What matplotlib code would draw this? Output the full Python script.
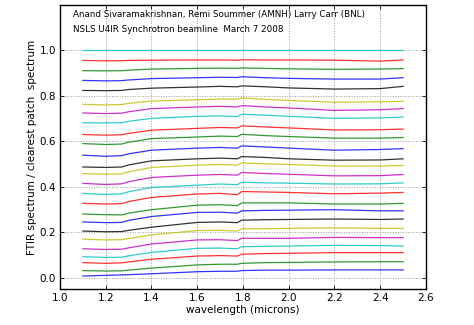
import matplotlib
matplotlib.use("Agg")
import matplotlib.pyplot as plt

wavelength = [1.10, 1.20, 1.27, 1.30, 1.40, 1.60, 1.70, 1.775, 1.795, 1.90, 2.00, 2.20, 2.40, 2.50]

# spectra ratios, listed from bottom (index 0) to top (index 24)
s00 = [0.007, 0.010, 0.012, 0.013, 0.017, 0.026, 0.028, 0.028, 0.031, 0.033, 0.033, 0.034, 0.034, 0.034]
s01 = [0.031, 0.029, 0.030, 0.033, 0.042, 0.056, 0.059, 0.059, 0.063, 0.066, 0.067, 0.069, 0.070, 0.070]
s02 = [0.066, 0.063, 0.065, 0.069, 0.081, 0.095, 0.097, 0.095, 0.103, 0.106, 0.107, 0.110, 0.110, 0.110]
s03 = [0.092, 0.089, 0.090, 0.096, 0.111, 0.129, 0.130, 0.127, 0.136, 0.138, 0.139, 0.142, 0.141, 0.139]
s04 = [0.127, 0.124, 0.125, 0.131, 0.148, 0.166, 0.167, 0.163, 0.173, 0.173, 0.173, 0.177, 0.176, 0.176]
s05 = [0.169, 0.166, 0.167, 0.172, 0.188, 0.207, 0.208, 0.205, 0.215, 0.215, 0.217, 0.219, 0.217, 0.217]
s06 = [0.205, 0.202, 0.203, 0.208, 0.222, 0.243, 0.245, 0.242, 0.253, 0.255, 0.256, 0.258, 0.256, 0.258]
s07 = [0.245, 0.242, 0.243, 0.252, 0.269, 0.287, 0.288, 0.284, 0.294, 0.296, 0.297, 0.299, 0.294, 0.294]
s08 = [0.280, 0.277, 0.276, 0.284, 0.299, 0.319, 0.321, 0.317, 0.329, 0.329, 0.329, 0.324, 0.324, 0.327]
s09 = [0.327, 0.324, 0.326, 0.335, 0.353, 0.368, 0.371, 0.365, 0.379, 0.377, 0.375, 0.369, 0.372, 0.375]
s10 = [0.371, 0.366, 0.369, 0.378, 0.397, 0.407, 0.412, 0.409, 0.420, 0.417, 0.416, 0.412, 0.413, 0.417]
s11 = [0.415, 0.410, 0.413, 0.422, 0.441, 0.451, 0.454, 0.451, 0.463, 0.458, 0.455, 0.448, 0.449, 0.454]
s12 = [0.458, 0.455, 0.457, 0.466, 0.485, 0.495, 0.498, 0.495, 0.505, 0.501, 0.498, 0.491, 0.491, 0.494]
s13 = [0.487, 0.485, 0.487, 0.496, 0.514, 0.523, 0.526, 0.523, 0.533, 0.529, 0.523, 0.517, 0.518, 0.523]
s14 = [0.539, 0.534, 0.537, 0.545, 0.561, 0.570, 0.573, 0.570, 0.580, 0.575, 0.570, 0.561, 0.564, 0.568]
s15 = [0.590, 0.586, 0.588, 0.596, 0.612, 0.619, 0.623, 0.621, 0.631, 0.625, 0.621, 0.614, 0.614, 0.617]
s16 = [0.630, 0.627, 0.629, 0.635, 0.649, 0.657, 0.661, 0.659, 0.668, 0.663, 0.659, 0.650, 0.651, 0.654]
s17 = [0.682, 0.681, 0.682, 0.688, 0.701, 0.710, 0.712, 0.709, 0.719, 0.715, 0.710, 0.701, 0.703, 0.707]
s18 = [0.725, 0.722, 0.724, 0.730, 0.744, 0.751, 0.754, 0.751, 0.757, 0.751, 0.747, 0.736, 0.739, 0.744]
s19 = [0.763, 0.760, 0.762, 0.767, 0.777, 0.783, 0.786, 0.785, 0.791, 0.784, 0.780, 0.772, 0.774, 0.776]
s20 = [0.824, 0.823, 0.824, 0.828, 0.834, 0.839, 0.842, 0.840, 0.844, 0.840, 0.835, 0.830, 0.832, 0.842]
s21 = [0.868, 0.866, 0.867, 0.870, 0.876, 0.880, 0.882, 0.881, 0.884, 0.880, 0.877, 0.874, 0.874, 0.880]
s22 = [0.911, 0.910, 0.911, 0.913, 0.918, 0.921, 0.922, 0.921, 0.923, 0.921, 0.919, 0.917, 0.918, 0.920]
s23 = [0.956, 0.954, 0.955, 0.956, 0.957, 0.958, 0.958, 0.957, 0.959, 0.958, 0.958, 0.957, 0.953, 0.958]
s24 = [1.000, 1.000, 1.000, 1.000, 1.000, 1.000, 1.000, 1.000, 1.000, 1.000, 1.000, 1.000, 1.000, 1.000]

spectra = [s00, s01, s02, s03, s04, s05, s06, s07, s08, s09, s10, s11, s12,
           s13, s14, s15, s16, s17, s18, s19, s20, s21, s22, s23, s24]

x_ticks = [1.0, 1.2, 1.4, 1.6, 1.8, 2.0, 2.2, 2.4, 2.6]
y_ticks = [0.0, 0.2, 0.4, 0.6, 0.8, 1.0]

note1 = "Anand Sivaramakrishnan, Remi Soummer (AMNH) Larry Carr (BNL)"
note2 = "NSLS U4IR Synchrotron beamline  March 7 2008"

colors = ['#0000ff', '#008000', '#ff0000', '#00bfbf', '#bf00bf', '#bfbf00', '#000000']

plt.rcParams['font.family'] = ['DejaVu Sans']
fig = plt.figure(figsize=(4.74, 3.25), dpi=100)
ax = fig.add_axes([0.1266, 0.1108, 0.772, 0.8738])

for i, s in enumerate(spectra):
    ax.plot(wavelength, s, color=colors[i % 7], lw=0.9, alpha=0.8)

ax.set_xlim(1.0, 2.6)
ax.set_ylim(-0.05, 1.2)
ax.set_xticks(x_ticks)
ax.set_yticks(y_ticks)
ax.set_xticklabels([f"{t:.1f}" for t in x_ticks], fontsize=7.5)
ax.set_yticklabels([f"{t:.1f}" for t in y_ticks], fontsize=7.5)
ax.tick_params(direction='in', top=True, right=True, length=3, width=0.6, pad=3)
ax.grid(True, color='0.6', linestyle=':', linewidth=0.7)
for sp in ax.spines.values():
    sp.set_linewidth(1.0)

ax.set_xlabel("wavelength (microns)", fontsize=7.5, labelpad=1)
ax.set_ylabel("FTIR spectrum / clearest patch  spectrum", fontsize=7.5, labelpad=2)

ax.text(1.057, 1.158, note1, fontsize=6.3, va='center', ha='left')
ax.text(1.057, 1.092, note2, fontsize=6.3, va='center', ha='left')

fig.savefig("out.png", dpi=100)
